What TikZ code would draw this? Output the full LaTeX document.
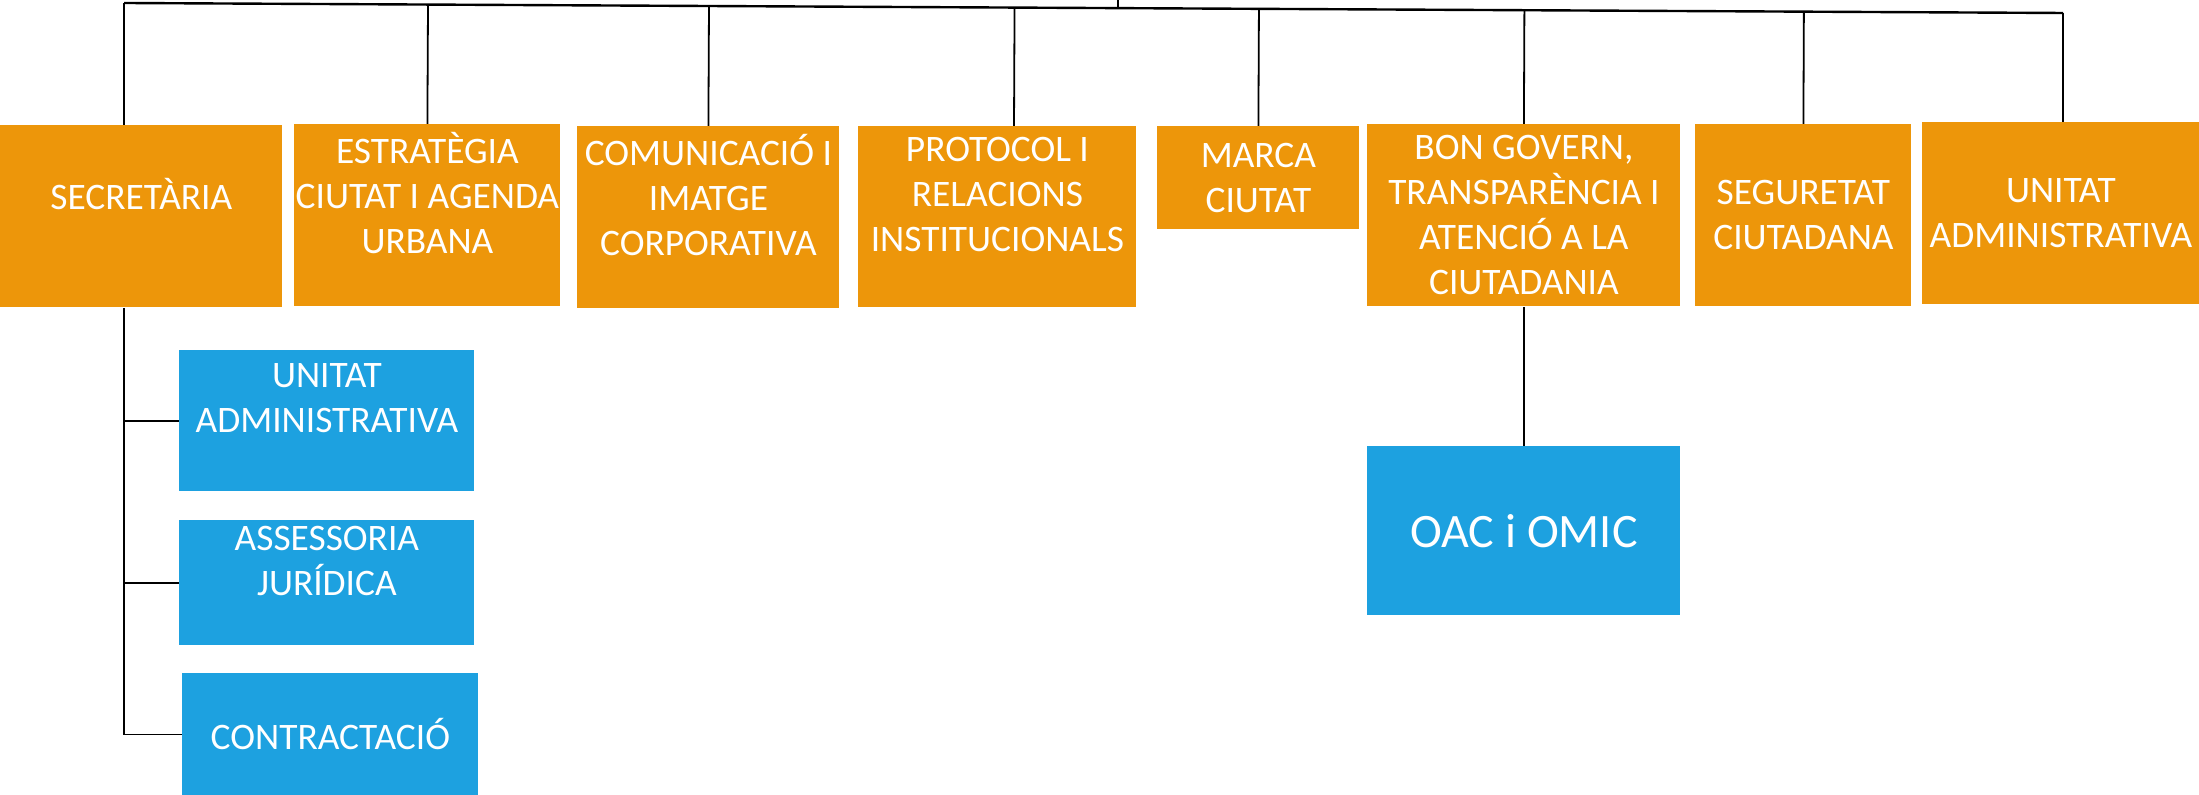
\documentclass[tikz,border=0pt]{standalone}
\usepackage{fontspec}
\setmainfont{Carlito}
\usetikzlibrary{calc}
\definecolor{orgorange}{RGB}{237,150,10}
\definecolor{orgblue}{RGB}{29,161,224}

\begin{document}
\begin{tikzpicture}[x=0.5pt,y=-0.5pt,
  box/.style={anchor=north west,inner sep=0pt,text=white,align=center,font=\fontsize{18.7}{22.5}\selectfont},
  area/.style={box,fill=orgorange},
  servei/.style={box,fill=orgblue},
  link/.style={line width=0.9pt}]
\useasboundingbox (0,0) rectangle (2199,795);
\node[area,minimum width=141pt,minimum height=91pt] (secr) at (0,125) {SECRETÀRIA\\\mbox{}};
\node[area,minimum width=133pt,minimum height=91pt] (estr) at (294,124) {ESTRATÈGIA\\CIUTAT I AGENDA\\URBANA\\\mbox{}};
\node[area,minimum width=131pt,minimum height=91pt] (comu) at (577,126) {COMUNICACIÓ I\\IMATGE\\CORPORATIVA\\\mbox{}};
\node[area,minimum width=139pt,minimum height=90.5pt] (prot) at (858,126) {PROTOCOL I\\RELACIONS\\INSTITUCIONALS\\\mbox{}};
\node[area,minimum width=101pt,minimum height=51.5pt] (marca) at (1157,126) {MARCA\\CIUTAT};
\node[area,minimum width=156.5pt,minimum height=91pt] (bong) at (1367,124) {BON GOVERN,\\TRANSPARÈNCIA I\\ATENCIÓ A LA\\CIUTADANIA};
\node[area,minimum width=108pt,minimum height=91pt] (segu) at (1695,124) {SEGURETAT\\CIUTADANA};
\node[area,minimum width=138.5pt,minimum height=91pt] (unit) at (1922,122) {UNITAT\\ADMINISTRATIVA};
\node[servei,minimum width=147.5pt,minimum height=70.5pt] (uadm) at (179,350) {UNITAT\\ADMINISTRATIVA\\\mbox{}};
\node[servei,minimum width=147.5pt,minimum height=62.5pt] (asse) at (179,520) {ASSESSORIA\\JURÍDICA\\\mbox{}};
\node[servei,minimum width=148pt,minimum height=61pt] (cont) at (182,673) {CONTRACTACIÓ};
\node[servei,minimum width=156.5pt,minimum height=84.5pt,font=\fontsize{24}{29}\selectfont] (oac) at (1367,446) {OAC i OMIC};
\coordinate (tl) at (124,3);
\coordinate (tr) at (2063,13);
\coordinate (top) at (1118,0);
\coordinate (pd) at ($(prot.north west)+(156,0)$);
\draw[line width=1.2pt] (tl) -- (tr);
\draw[link] (top) -- ($(tl)!(top)!(tr)$);
\draw[link] (tl) -- (tl |- secr.north);
\draw[link] (tr) -- (tr |- unit.north);
\draw[link] (pd) -- ($(tl)!(pd)!(tr)$);
\foreach \n in {estr,comu,marca,bong,segu}
  \draw[link] (\n.north) -- ($(tl)!(\n.north)!(tr)$);
\draw[link] (tl |- secr.south) -- (tl |- cont.west) -- (cont.west);
\draw[link] (tl |- uadm.west) -- (uadm.west);
\draw[link] (tl |- asse.west) -- (asse.west);
\draw[link] (bong.south) -- (oac.north);
\end{tikzpicture}
\end{document}
